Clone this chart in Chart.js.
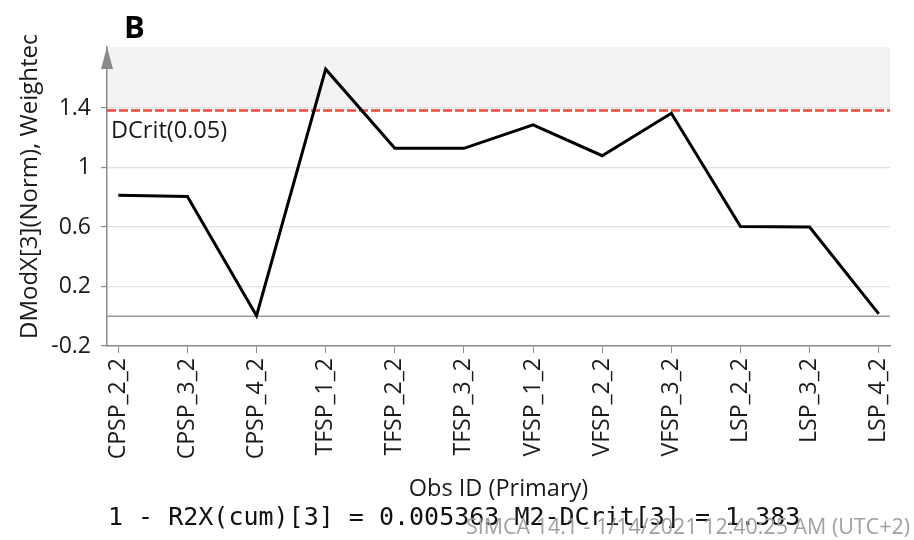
<!DOCTYPE html>
<html>
<head>
<meta charset="utf-8">
<script src="https://cdn.jsdelivr.net/npm/chart.js@4"></script>
<style>
  html, body { margin: 0; padding: 0; background: #fff; }
  canvas { display: block; }
</style>
</head>
<body>
<canvas id="c" width="914" height="540"></canvas>
<script>
// Observations along the x axis
const categories = ['CPSP_2_2', 'CPSP_3_2', 'CPSP_4_2', 'TFSP_1_2', 'TFSP_2_2', 'TFSP_3_2',
                    'VFSP_1_2', 'VFSP_2_2', 'VFSP_3_2', 'LSP_2_2', 'LSP_3_2', 'LSP_4_2'];
// DModX[3](Norm) per observation
const dmodx = [0.814, 0.805, 0.004, 1.661, 1.129, 1.129, 1.286, 1.079, 1.365, 0.603, 0.600, 0.016];
// Y axis tick values
const yTicks = [-0.2, 0.2, 0.6, 1.0, 1.4];
// Critical distance and residual variance
const dcrit = 1.383;
const r2xResidual = 0.005363;

const FONT = "'Open Sans', 'Noto Sans', sans-serif";
const AXIS_GREY = '#8a8a8a';

const decorations = {
  id: 'decorations',
  beforeDraw(chart) {
    const { ctx, chartArea: a, scales: { y } } = chart;
    // shaded region above the critical limit
    const yc = y.getPixelForValue(dcrit);
    ctx.save();
    ctx.fillStyle = '#f3f3f3';
    ctx.fillRect(a.left, a.top, a.right - a.left, yc - a.top);
    ctx.restore();
  },
  beforeDatasetsDraw(chart) {
    const { ctx, chartArea: a, scales: { y } } = chart;
    ctx.save();
    // zero line
    const y0 = y.getPixelForValue(0);
    ctx.strokeStyle = '#9a9a9a';
    ctx.lineWidth = 1.5;
    ctx.beginPath();
    ctx.moveTo(a.left, y0);
    ctx.lineTo(a.right, y0);
    ctx.stroke();
    // critical limit
    const yc = y.getPixelForValue(dcrit);
    ctx.strokeStyle = '#f0483a';
    ctx.lineWidth = 2.5;
    ctx.setLineDash([9, 3]);
    ctx.beginPath();
    ctx.moveTo(a.left, yc);
    ctx.lineTo(a.right, yc);
    ctx.stroke();
    ctx.setLineDash([]);
    ctx.fillStyle = '#1a1a1a';
    ctx.font = '23.5px ' + FONT;
    ctx.textAlign = 'left';
    ctx.textBaseline = 'alphabetic';
    ctx.fillText('DCrit(0.05)', a.left + 4, yc + 27, 118);
    ctx.restore();
  },
  afterDraw(chart) {
    const { ctx, chartArea: a } = chart;
    ctx.save();
    // arrow head on the y axis
    ctx.fillStyle = AXIS_GREY;
    ctx.beginPath();
    ctx.moveTo(a.left, a.top);
    ctx.lineTo(a.left - 6, a.top + 22);
    ctx.lineTo(a.left + 6, a.top + 22);
    ctx.closePath();
    ctx.fill();

    // panel letter
    ctx.fillStyle = '#000';
    ctx.font = 'bold 31px ' + FONT;
    ctx.textAlign = 'left';
    ctx.fillText('B', 124, 38);

    // y axis title, cut off where its label box ends
    ctx.save();
    ctx.beginPath();
    ctx.rect(0, 35, 60, 320);
    ctx.clip();
    ctx.translate(37, 339);
    ctx.rotate(-Math.PI / 2);
    ctx.font = '24px ' + FONT;
    ctx.fillStyle = '#1a1a1a';
    ctx.textAlign = 'left';
    ctx.fillText('DModX[3](Norm), Weighted', 0, 0);
    ctx.restore();

    // x axis title
    ctx.font = '23.5px ' + FONT;
    ctx.fillStyle = '#1a1a1a';
    ctx.textAlign = 'center';
    ctx.fillText('Obs ID (Primary)', (a.left + a.right) / 2, 496, 180);

    // model summary line
    ctx.font = "25px 'DejaVu Sans Mono', 'Liberation Mono', monospace";
    ctx.fillStyle = '#111';
    ctx.textAlign = 'left';
    ctx.fillText('1 - R2X(cum)[3] = ' + r2xResidual + ' M2-DCrit[3] = ' + dcrit, 108, 525, 698);

    // software stamp
    ctx.font = '21.5px ' + FONT;
    ctx.fillStyle = '#a0a0a0';
    ctx.textAlign = 'right';
    ctx.fillText('SIMCA 14.1 - 1/14/2021 12:40:25 AM (UTC+2)', 910, 534, 444);
    ctx.restore();
  }
};

new Chart(document.getElementById('c'), {
  type: 'line',
  data: {
    datasets: [{
      data: dmodx.map((v, i) => ({ x: i, y: v })),
      borderColor: '#000',
      borderWidth: 3,
      pointRadius: 0,
      tension: 0,
      fill: false
    }]
  },
  options: {
    responsive: false,
    animation: false,
    devicePixelRatio: 1,
    layout: { padding: { left: 0, right: 24, top: 47, bottom: 0 } },
    plugins: { legend: { display: false }, tooltip: { enabled: false }, title: { display: false } },
    scales: {
      x: {
        type: 'linear',
        min: -0.163,
        max: categories.length - 1 + 0.163,
        afterBuildTicks: s => { s.ticks = categories.map((_, i) => ({ value: i })); },
        afterFit: s => { s.height = 194; },
        ticks: {
          autoSkip: false,
          minRotation: 90,
          maxRotation: 90,
          padding: 5,
          color: '#1a1a1a',
          font: { family: FONT, size: 23 },
          callback: v => categories[v]
        },
        grid: { drawOnChartArea: false, drawTicks: true, tickLength: 7, tickColor: AXIS_GREY, color: AXIS_GREY },
        border: { color: AXIS_GREY, width: 1.5 }
      },
      y: {
        type: 'linear',
        min: -0.2,
        max: 1.81,
        afterBuildTicks: s => { s.ticks = yTicks.map(v => ({ value: v })); },
        afterFit: s => { s.width = 107; },
        ticks: {
          padding: 10,
          color: '#1a1a1a',
          font: { family: FONT, size: 23 },
          callback: v => String(Math.round(v * 10) / 10)
        },
        grid: {
          color: c => (c.tick && Math.abs(c.tick.value + 0.2) < 1e-6) ? 'rgba(0,0,0,0)' : '#e2e2e2',
          lineWidth: 1.2,
          drawTicks: true,
          tickLength: 6,
          tickColor: AXIS_GREY
        },
        border: { color: AXIS_GREY, width: 1.5 }
      }
    }
  },
  plugins: [decorations]
});
</script>
</body>
</html>
